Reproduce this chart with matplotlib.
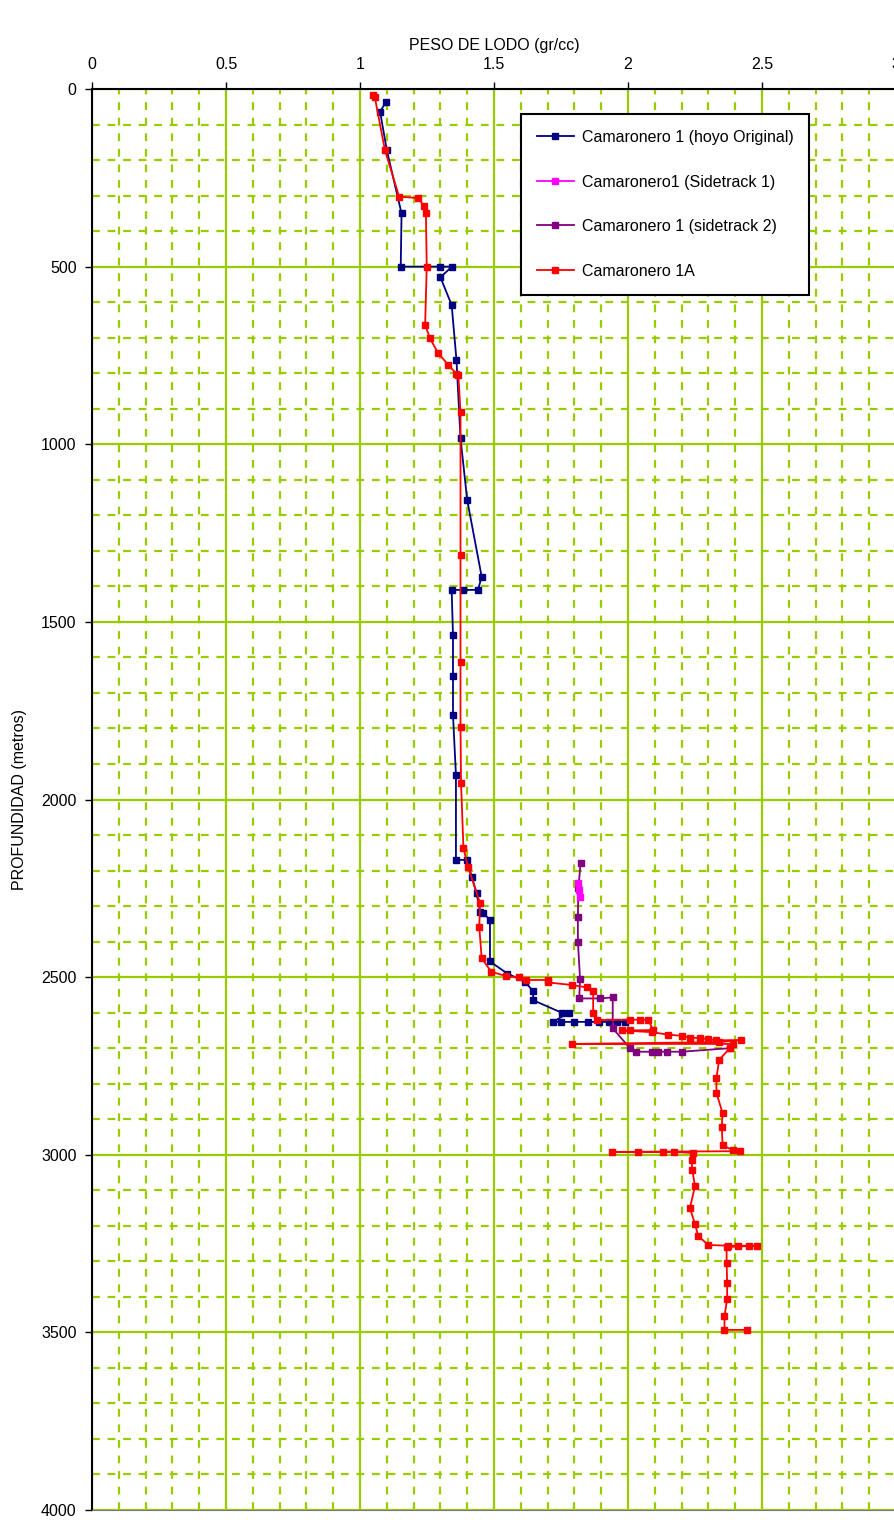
import matplotlib.pyplot as plt
from matplotlib.ticker import MultipleLocator

# --- data (peso de lodo gr/cc vs profundidad m) ---
orig_peso = [1.097, 1.075, 1.10, 1.155, 1.152, 1.30, 1.343, 1.30, 1.342, 1.36, 1.375,
             1.40, 1.454, 1.44, 1.385, 1.342, 1.347, 1.347, 1.347, 1.358, 1.358, 1.398,
             1.417, 1.435, 1.448, 1.46, 1.485, 1.485, 1.55, 1.616, 1.646, 1.646, 1.752,
             1.78, 1.72, 1.75, 1.80, 1.85, 1.89, 1.93, 1.96, 1.99]
orig_prof = [36, 64, 172, 350, 500, 500, 500, 530, 608, 763, 983,
             1157, 1373, 1410, 1410, 1410, 1537, 1652, 1762, 1931, 2170, 2170,
             2217, 2264, 2316, 2320, 2339, 2456, 2490, 2513, 2540, 2565, 2600,
             2600, 2626, 2626, 2626, 2626, 2626, 2626, 2626, 2626]

st1_peso = [1.815, 1.818, 1.82]
st1_prof = [2236, 2256, 2274]

st2_peso = [1.823, 1.815, 1.813, 1.813, 1.821, 1.818, 1.896, 1.943, 1.943, 2.007,
            2.03, 2.088, 2.113, 2.145, 2.20, 2.38]
st2_prof = [2178, 2250, 2330, 2400, 2504, 2560, 2560, 2557, 2644, 2700,
            2710, 2710, 2710, 2710, 2710, 2700]

c1a_peso = [1.05, 1.055, 1.093, 1.146, 1.216, 1.24, 1.246, 1.249, 1.243, 1.261, 1.292,
            1.33, 1.36, 1.367, 1.375, 1.375, 1.375, 1.375, 1.377, 1.386, 1.403, 1.448,
            1.445, 1.454, 1.49, 1.545, 1.594, 1.62, 1.70, 1.70, 1.79, 1.846, 1.87, 1.87,
            1.883, 2.007, 2.045, 2.075, 2.094, 2.007, 1.976, 2.09, 2.15, 2.20, 2.23, 2.27,
            2.30, 2.33, 2.42, 2.34, 1.79, 2.39, 2.38, 2.34, 2.33, 2.33, 2.353, 2.35,
            2.353, 2.393, 2.418, 1.939, 2.039, 2.13, 2.173, 2.243, 2.237, 2.24, 2.25,
            2.231, 2.25, 2.262, 2.30, 2.374, 2.41, 2.45, 2.48, 2.368, 2.368, 2.37, 2.37,
            2.36, 2.36, 2.443]
c1a_prof = [17, 22, 172, 303, 307, 330, 350, 500, 664, 702, 744,
            777, 802, 805, 909, 1312, 1612, 1795, 1953, 2137, 2189, 2292,
            2358, 2447, 2485, 2497, 2501, 2508, 2508, 2515, 2522, 2529, 2540, 2602,
            2621, 2620, 2620, 2620, 2649, 2650, 2650, 2655, 2662, 2665, 2670, 2672,
            2675, 2678, 2677, 2683, 2688, 2688, 2700, 2733, 2784, 2826, 2883, 2921,
            2973, 2988, 2990, 2992, 2992, 2992, 2992, 2995, 3015, 3043, 3088,
            3150, 3195, 3229, 3254, 3256, 3256, 3256, 3256, 3260, 3305, 3360, 3406,
            3454, 3493, 3493]

x_ticks = [0, 0.5, 1, 1.5, 2, 2.5, 3]
x_labels = ["0", "0.5", "1", "1.5", "2", "2.5", "3"]
y_ticks = [0, 500, 1000, 1500, 2000, 2500, 3000, 3500, 4000]

plt.rcParams['font.family'] = ['Liberation Sans Narrow', 'Liberation Sans', 'DejaVu Sans']

fig = plt.figure(figsize=(8.94, 15.2), dpi=100)
ax = fig.add_axes([92 / 894, 10 / 1520, 804 / 894, 1421 / 1520])

grid_c = '#99CC00'
ax.set_xlim(0, 3)
ax.set_ylim(4000, 0)
ax.xaxis.set_minor_locator(MultipleLocator(0.1))
ax.yaxis.set_minor_locator(MultipleLocator(100))
ax.set_xticks(x_ticks)
ax.set_xticklabels(x_labels)
ax.set_yticks(y_ticks)
ax.grid(True, which='major', color=grid_c, lw=1.6, ls='-', zorder=0)
ax.grid(True, which='minor', color=grid_c, lw=1.6, ls=(0, (3.5, 3.5)), zorder=0)
ax.set_axisbelow(True)

ax.xaxis.tick_top()
ax.xaxis.set_label_position('top')
ax.tick_params(axis='both', which='minor', length=0)
ax.tick_params(axis='both', which='major', length=5, width=1, labelsize=11.5)
ax.tick_params(axis='x', pad=7)
ax.tick_params(axis='y', pad=6)
for s in ['left', 'top']:
    ax.spines[s].set_linewidth(1.5)
ax.spines['right'].set_visible(False)
ax.spines['bottom'].set_color('#777777')

ax.plot(orig_peso, orig_prof, color='#000080', lw=1.3, marker='s', ms=4,
        label='Camaronero 1 (hoyo Original)', zorder=3)
ax.plot(st1_peso, st1_prof, color='#FF00FF', lw=1.3, marker='s', ms=4,
        label='Camaronero1 (Sidetrack 1)', zorder=5)
ax.plot(st2_peso, st2_prof, color='#800080', lw=1.3, marker='s', ms=4,
        label='Camaronero 1 (sidetrack 2)', zorder=4)
ax.plot(c1a_peso, c1a_prof, color='#FF0000', lw=1.3, marker='s', ms=4,
        label='Camaronero 1A', zorder=4)

ax.set_xlabel('PESO DE LODO (gr/cc)', fontsize=11.5, labelpad=5)
ax.set_ylabel('PROFUNDIDAD (metros)', fontsize=11.5, labelpad=10)

leg = ax.legend(loc='upper left', bbox_to_anchor=(0.5336, 0.9824), fontsize=11.5,
                labelspacing=1.85, handlelength=2.3, handletextpad=0.5, borderpad=1.0,
                fancybox=False, framealpha=1, edgecolor='black', borderaxespad=0)
leg.get_frame().set_linewidth(1.5)

fig.savefig('out.png', dpi=100)
